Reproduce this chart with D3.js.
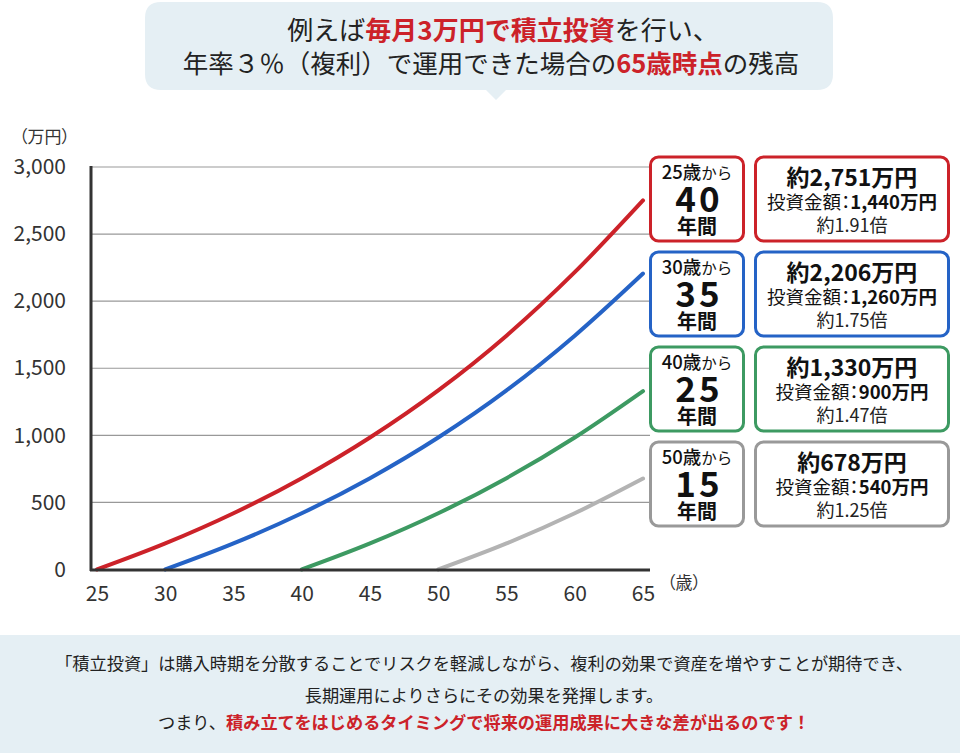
<!DOCTYPE html>
<html><head><meta charset="utf-8">
<script src="https://cdn.jsdelivr.net/npm/d3@7"></script>
<style>
html,body{margin:0;padding:0;background:#fff;}
svg{display:block;font-family:"Noto Sans CJK JP","Noto Sans",sans-serif;}
text{font-family:"Noto Sans CJK JP","Noto Sans",sans-serif;}
.palt{font-feature-settings:"palt";}
</style></head>
<body>
<svg id="c" width="960" height="753"></svg>
<script>
// ---- data ----
const ages = [25,30,35,40,45,50,55,60,65];
const yTicks = [0,500,1000,1500,2000,2500,3000];
const startLabels = ["25歳","30歳","40歳","50歳"];
const startAges = [25,30,40,50];
const years = ["40","35","25","15"];
const red   = [0,194,419,681,984,1335,1743,2216,2751];
const blue  = [0,194,419,681,984,1335,1743,2206];
const green = [0,194,419,681,984,1330];
const gray  = [0,194,419,678];
const totals = ["約2,751万円","約2,206万円","約1,330万円","約678万円"];
const invested = ["1,440万円","1,260万円","900万円","540万円"];
const ratios = ["約1.91倍","約1.75倍","約1.47倍","約1.25倍"];
const colors = ["#cc2229","#2563c6","#3d9a62","#b3b3b3"];
const boxColors = ["#cc2229","#2563c6","#3d9a62","#999999"];

const svg = d3.select("#c");
const x = d3.scaleLinear().domain([25,65]).range([97,643]);
const y = d3.scaleLinear().domain([0,3000]).range([569.5,167]);

// title bubble
const bg = "#e5eff4";
svg.append("path")
  .attr("d", "M161,2 H817 Q833,2 833,18 V74 Q833,90 817,90 H506 L496,100 L486,90 H161 Q145,90 145,74 V18 Q145,2 161,2 Z")
  .attr("fill", bg);
const t1 = svg.append("text").attr("x",503).attr("y",40).attr("text-anchor","middle").attr("font-size",26).attr("fill","#222");
t1.append("tspan").text("例えば");
t1.append("tspan").text("毎月3万円で積立投資").attr("fill","#cc2229").attr("font-weight","bold");
t1.append("tspan").text("を行い、");
const t2 = svg.append("text").attr("x",491).attr("y",73).attr("text-anchor","middle").attr("font-size",25.5).attr("fill","#222");
t2.append("tspan").text("年率３％（複利）で運用できた場合の");
t2.append("tspan").text("65歳時点").attr("fill","#cc2229").attr("font-weight","bold");
t2.append("tspan").text("の残高");

// gridlines
svg.append("g").selectAll("line").data(yTicks.filter(d=>d>0)).join("line")
  .attr("x1",91).attr("x2",650).attr("y1",d=>y(d)).attr("y2",d=>y(d))
  .attr("stroke","#999").attr("stroke-width",1.2);

// y axis
const yAxis = d3.axisLeft(y).tickValues(yTicks).tickFormat(d3.format(",")).tickSize(0).tickPadding(0);
const gy = svg.append("g").attr("transform","translate(66,0)").call(yAxis);
gy.attr("font-family",null);
gy.select(".domain").remove();
gy.selectAll("text").attr("font-size",21).attr("fill","#333");
svg.append("text").attr("class","palt").attr("x",19).attr("y",143).attr("font-size",17).attr("fill","#333").text("（万円）");

// x axis
const xAxis = d3.axisBottom(x).tickValues(ages).tickSize(0).tickPadding(0);
const gx = svg.append("g").attr("transform","translate(0,586)").call(xAxis);
gx.attr("font-family",null);
gx.select(".domain").remove();
gx.selectAll("text").attr("font-size",21).attr("fill","#333").attr("dy","0.71em");
svg.append("text").attr("class","palt").attr("x",667).attr("y",589).attr("font-size",17).attr("fill","#333").text("（歳）");

// lines
const seriesData = [red,blue,green,gray];
const line = d3.line().x(d=>x(d[0])).y(d=>y(d[1])).curve(d3.curveMonotoneX);
seriesData.forEach((vals,i)=>{
  const pts = vals.map((v,j)=>[startAges[i]+5*j, v]);
  svg.append("path").attr("d",line(pts)).attr("fill","none")
    .attr("stroke",colors[i]).attr("stroke-width",4).attr("stroke-linecap","round");
});

// axis lines
svg.append("line").attr("x1",91).attr("x2",91).attr("y1",166).attr("y2",571).attr("stroke","#333").attr("stroke-width",3);
svg.append("line").attr("x1",90).attr("x2",650).attr("y1",570).attr("y2",570).attr("stroke","#333").attr("stroke-width",3);

// boxes
const boxTops = [157,252,347,442];
const bh = 84;
boxTops.forEach((top,i)=>{
  const g = svg.append("g");
  g.append("rect").attr("x",650.5).attr("y",top).attr("width",93).attr("height",bh).attr("rx",8)
    .attr("fill","#fff").attr("stroke",boxColors[i]).attr("stroke-width",3);
  g.append("rect").attr("x",755.5).attr("y",top).attr("width",193).attr("height",bh).attr("rx",8)
    .attr("fill","#fff").attr("stroke",boxColors[i]).attr("stroke-width",3);
  const l1 = g.append("text").attr("x",697).attr("y",top+22).attr("text-anchor","middle").attr("fill","#111");
  l1.append("tspan").text(startLabels[i]).attr("font-size",18.5).attr("font-weight","500");
  l1.append("tspan").text("から").attr("font-size",15.5);
  g.append("text").attr("x",699).attr("y",top+55).attr("text-anchor","middle").attr("font-size",35).attr("font-weight","bold")
    .attr("letter-spacing",3).attr("fill","#111").text(years[i]);
  g.append("text").attr("x",697).attr("y",top+77).attr("text-anchor","middle").attr("font-size",20).attr("font-weight","bold").attr("fill","#111").text("年間");
  g.append("text").attr("x",852).attr("y",top+29).attr("text-anchor","middle").attr("font-size",23).attr("font-weight","bold").attr("fill","#111").text(totals[i]);
  const l2 = g.append("text").attr("class","palt").attr("x",852).attr("y",top+52).attr("text-anchor","middle").attr("font-size",18.5).attr("fill","#111");
  l2.append("tspan").text("投資金額：");
  l2.append("tspan").text(invested[i]).attr("font-weight","bold");
  g.append("text").attr("x",852).attr("y",top+75).attr("text-anchor","middle").attr("font-size",18).attr("fill","#222").text(ratios[i]);
});

// footer
svg.append("rect").attr("x",0).attr("y",635).attr("width",960).attr("height",118).attr("fill",bg);
svg.append("text").attr("x",484).attr("y",670).attr("text-anchor","middle").attr("font-size",17.2).attr("fill","#222")
  .text("「積立投資」は購入時期を分散することでリスクを軽減しながら、複利の効果で資産を増やすことが期待でき、");
svg.append("text").attr("x",484).attr("y",702).attr("text-anchor","middle").attr("font-size",17.2).attr("fill","#222")
  .text("長期運用によりさらにその効果を発揮します。");
const f3 = svg.append("text").attr("x",484).attr("y",729).attr("text-anchor","middle").attr("font-size",17.2).attr("fill","#222");
f3.append("tspan").text("つまり、");
f3.append("tspan").text("積み立てをはじめるタイミングで将来の運用成果に大きな差が出るのです！").attr("fill","#cc2229").attr("font-weight","bold");
</script>
</body></html>
